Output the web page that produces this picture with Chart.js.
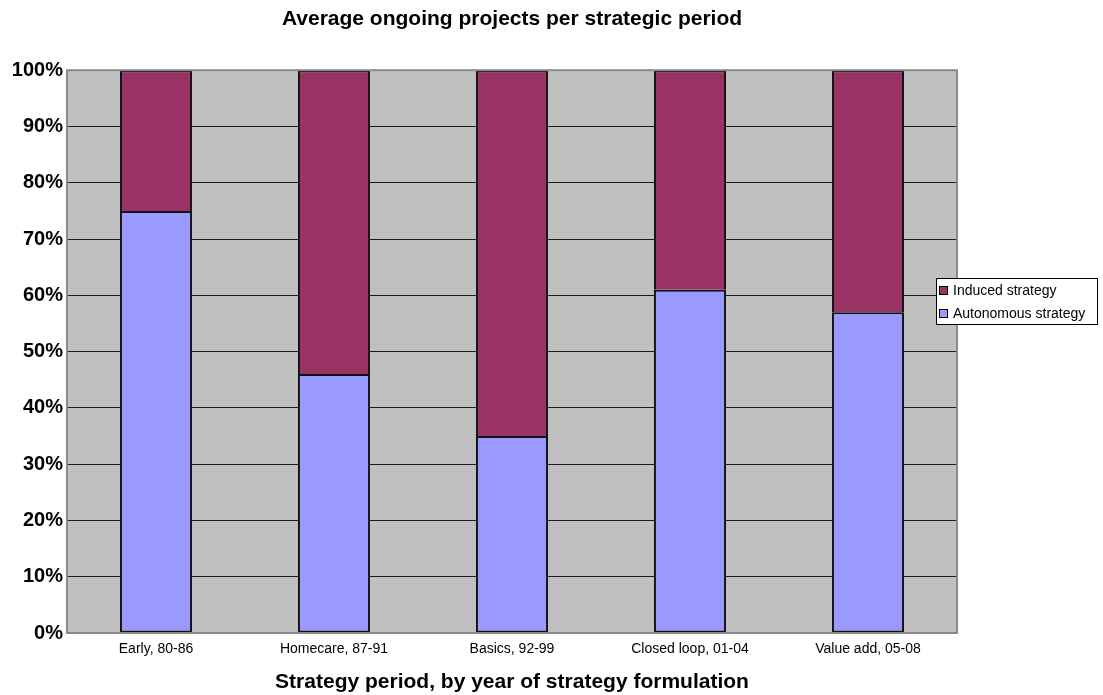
<!DOCTYPE html>
<html>
<head>
<meta charset="utf-8">
<script src="https://cdn.jsdelivr.net/npm/chart.js@4"></script>
<style>
  html, body { margin: 0; padding: 0; background: #fff; }
  #wrap { width: 1103px; height: 695px; }
</style>
</head>
<body>
<div id="wrap"><canvas id="chart" width="1103" height="695"></canvas></div>
<script>
/* global Chart */
const categories = ['Early, 80-86', 'Homecare, 87-91', 'Basics, 92-99', 'Closed loop, 01-04', 'Value add, 05-08'];
const autonomousShare = [75, 46, 35, 61, 57];
const inducedShare = [25, 54, 65, 39, 43];
const seriesNames = ['Autonomous strategy', 'Induced strategy'];
const yTickValues = [0, 10, 20, 30, 40, 50, 60, 70, 80, 90, 100];

const FONT = '"Liberation Sans", Arial, sans-serif';
const PLOT_BG = '#C0C0C0';

// Grey plot background + frame, like the old Excel chart.
const plotFrame = {
  id: 'plotFrame',
  beforeDraw(chart) {
    const { ctx, chartArea: a } = chart;
    ctx.save();
    ctx.fillStyle = PLOT_BG;
    ctx.fillRect(a.left, a.top, a.right - a.left, a.bottom - a.top);
    ctx.restore();
  },
  afterDatasetsDraw(chart) {
    const { ctx, chartArea: a } = chart;
    ctx.save();
    ctx.strokeStyle = '#8a8a8a';
    ctx.lineWidth = 2;
    ctx.strokeRect(a.left, a.top, a.right - a.left, a.bottom - a.top);
    ctx.restore();
  },
};

// Boxed legend that sits over the right edge of the plot (reverse order).
const boxLegend = {
  id: 'boxLegend',
  afterDraw(chart) {
    const { ctx, chartArea: a } = chart;
    const x = a.right - 21;
    const y = 278;
    const w = 161;
    const h = 46;
    ctx.save();
    ctx.fillStyle = '#fff';
    ctx.fillRect(x, y, w, h);
    ctx.strokeStyle = '#000';
    ctx.lineWidth = 1;
    ctx.strokeRect(x + 0.5, y + 0.5, w, h);
    ctx.font = '14px ' + FONT;
    ctx.textBaseline = 'middle';
    const sets = chart.data.datasets.slice().reverse();
    sets.forEach((ds, i) => {
      const cy = y + 12 + i * 23;
      ctx.fillStyle = ds.backgroundColor;
      ctx.fillRect(x + 3, cy - 4, 8, 8);
      ctx.strokeStyle = '#000';
      ctx.strokeRect(x + 3.5, cy - 3.5, 8, 8);
      ctx.fillStyle = '#000';
      ctx.fillText(ds.label, x + 17, cy + 1);
    });
    ctx.restore();
  },
};

const barStyle = { borderColor: '#111', borderWidth: 2 };

new Chart(document.getElementById('chart'), {
  type: 'bar',
  data: {
    labels: categories,
    datasets: [
      { label: seriesNames[0], data: autonomousShare, backgroundColor: '#9999FF', borderSkipped: false, ...barStyle },
      // skip the bottom edge so the join with the lower segment is a single line
      { label: seriesNames[1], data: inducedShare, backgroundColor: '#993366', borderSkipped: 'bottom', ...barStyle },
    ],
  },
  options: {
    responsive: false,
    animation: false,
    devicePixelRatio: 1,
    layout: { padding: { left: 0, right: 146, top: 0, bottom: 0 } },
    datasets: { bar: { categoryPercentage: 1, barPercentage: 0.405 } },
    plugins: {
      legend: { display: false },
      tooltip: { enabled: false },
      title: {
        display: true,
        fullSize: false,
        text: 'Average ongoing projects per strategic period',
        color: '#000',
        font: { family: FONT, size: 21, weight: 'bold' },
        padding: { top: 7, bottom: 38 },
      },
    },
    scales: {
      x: {
        stacked: true,
        grid: { display: false },
        border: { display: false },
        ticks: { color: '#000', font: { family: FONT, size: 14 }, padding: 0, maxRotation: 0 },
        title: {
          display: true,
          text: 'Strategy period, by year of strategy formulation',
          color: '#000',
          font: { family: FONT, size: 21, weight: 'bold' },
          padding: { top: 16, bottom: 0 },
        },
        afterFit(scale) { scale.height = 62; },
      },
      y: {
        stacked: true,
        min: 0,
        max: 100,
        afterBuildTicks(scale) { scale.ticks = yTickValues.map((v) => ({ value: v })); },
        grid: { color: '#1a1a1a', lineWidth: 1, drawTicks: false },
        border: { display: false },
        ticks: {
          color: '#000',
          padding: 4,
          font: { family: FONT, size: 20, weight: 'bold' },
          callback: (v) => v + '%',
        },
        afterFit(scale) { scale.width = 67; },
      },
    },
  },
  plugins: [plotFrame, boxLegend],
});
</script>
</body>
</html>
